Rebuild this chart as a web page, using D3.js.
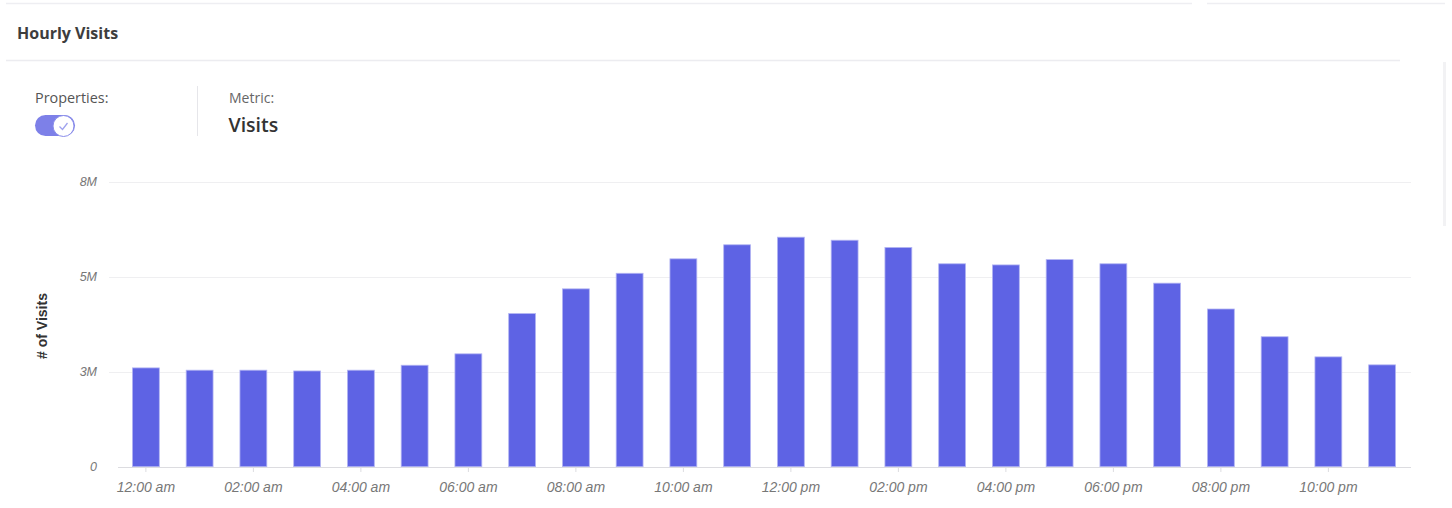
<!DOCTYPE html>
<html>
<head>
<meta charset="utf-8">
<script src="https://cdn.jsdelivr.net/npm/d3@7"></script>
<style>
  html, body { margin: 0; padding: 0; background: #fff; }
  svg { display: block; }
</style>
</head>
<body>
<svg id="chart" width="1452" height="508"></svg>
<script>
const hours = d3.range(24);
const hourLabels = ["12:00 am","01:00 am","02:00 am","03:00 am","04:00 am","05:00 am","06:00 am","07:00 am","08:00 am","09:00 am","10:00 am","11:00 am",
  "12:00 pm","01:00 pm","02:00 pm","03:00 pm","04:00 pm","05:00 pm","06:00 pm","07:00 pm","08:00 pm","09:00 pm","10:00 pm","11:00 pm"];
const visits = [2600000,2540000,2540000,2520000,2540000,2670000,2970000,4030000,4680000,5090000,5470000,5840000,
  6040000,5960000,5770000,5340000,5310000,5450000,5340000,4830000,4150000,3420000,2890000,2680000];
const yTicks = [0, 2500000, 5000000, 7500000];
const yTickLabels = ["0","3M","5M","8M"];

const svg = d3.select("#chart");

// page chrome
svg.append("line").attr("x1",6).attr("x2",1192).attr("y1",3.5).attr("y2",3.5).attr("stroke","#eeeef2").attr("stroke-width",1.5);
svg.append("line").attr("x1",1207).attr("x2",1445).attr("y1",3.5).attr("y2",3.5).attr("stroke","#eeeef2").attr("stroke-width",1.5);
svg.append("text").attr("x",17).attr("y",38.5).text("Hourly Visits")
  .attr("font-family","Open Sans, sans-serif").attr("font-weight",700).attr("font-size",16).attr("fill","#3d3d3d");
svg.append("line").attr("x1",6).attr("x2",1400).attr("y1",60.5).attr("y2",60.5).attr("stroke","#ececf0").attr("stroke-width",1.5);
svg.append("rect").attr("x",1443).attr("y",62).attr("width",3).attr("height",164).attr("fill","#f2f2f4");

svg.append("text").attr("x",35).attr("y",103).text("Properties:")
  .attr("font-family","Open Sans, sans-serif").attr("font-size",14.4).attr("fill","#555");
// toggle
svg.append("rect").attr("x",35).attr("y",115).attr("width",40).attr("height",21).attr("rx",10.5).attr("fill","#7d80e8");
svg.append("circle").attr("cx",63.5).attr("cy",126).attr("r",10.5).attr("fill","#fff").attr("stroke","#8a8dea").attr("stroke-width",1);
svg.append("path").attr("d","M59.5,126.5 L62.5,129.5 L67.5,123").attr("fill","none").attr("stroke","#9fa2ee").attr("stroke-width",1.3);

svg.append("line").attr("x1",197.5).attr("x2",197.5).attr("y1",86).attr("y2",136).attr("stroke","#e6e6ea").attr("stroke-width",1);
svg.append("text").attr("x",229).attr("y",103).text("Metric:")
  .attr("font-family","Open Sans, sans-serif").attr("font-size",14).attr("fill","#666");
svg.append("text").attr("x",228.5).attr("y",132).text("Visits")
  .attr("font-family","Open Sans, sans-serif").attr("font-size",19.5).attr("font-weight",600).attr("fill","#333");

// scales
const x = d3.scaleBand().domain(hours).range([119, 1409]).paddingInner(0.5).paddingOuter(0.25);
const y = d3.scaleLinear().domain([0, 7500000]).range([466.7, 181.7]);

// gridlines
svg.append("g").selectAll("line").data(yTicks.filter(d => d > 0)).join("line")
  .attr("x1",109).attr("x2",1411).attr("y1",d => Math.round(y(d))+0.5).attr("y2",d => Math.round(y(d))+0.5)
  .attr("stroke","#efeff1").attr("stroke-width",1);

// y tick labels
svg.append("g").selectAll("text").data(yTicks).join("text")
  .attr("x",97).attr("y",d => y(d)+4.5).attr("text-anchor","end")
  .attr("font-family","Liberation Sans, Arial, sans-serif").attr("font-style","italic").attr("font-size",12.5).attr("fill","#777")
  .text((d,i) => yTickLabels[i]);

// y title
svg.append("text").attr("transform","translate(47,326) rotate(-90)").attr("text-anchor","middle")
  .attr("font-family","Liberation Sans, Arial, sans-serif").attr("font-weight",700).attr("font-size",14).attr("fill","#333")
  .text("# of Visits");

// bars
svg.append("g").selectAll("rect").data(hours).join("rect")
  .attr("x",d => x(d)).attr("width",x.bandwidth())
  .attr("y",d => y(visits[d])).attr("height",d => y(0) - y(visits[d]))
  .attr("fill","#5e63e4").attr("stroke","#b3b5f3").attr("stroke-width",0.8);

// x axis
const xAxis = d3.axisBottom(x).tickValues(hours.filter(h => h % 2 === 0)).tickSize(5).tickSizeOuter(0).tickFormat(d => hourLabels[d]);
const gx = svg.append("g").attr("transform","translate(0,467)").call(xAxis);
gx.select(".domain").attr("d","M118,0.5H1411").attr("stroke","#dcdce0");
gx.selectAll(".tick line").attr("stroke","#dcdce0");
gx.selectAll(".tick text").attr("dy",0).attr("y",24.5)
  .attr("font-family","Liberation Sans, Arial, sans-serif").attr("font-style","italic").attr("font-size",14).attr("fill","#777");
</script>
</body>
</html>
